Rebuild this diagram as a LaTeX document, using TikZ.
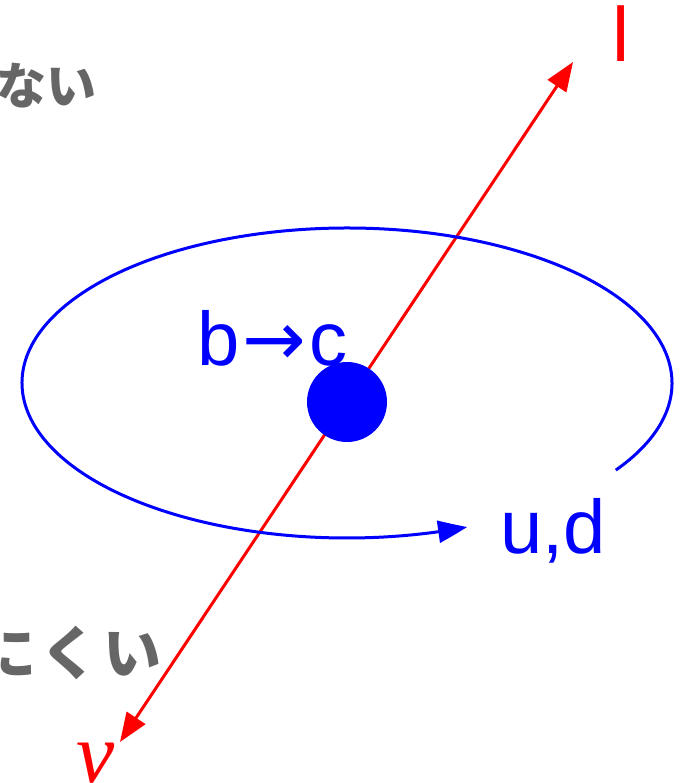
\documentclass[tikz,border=0pt]{standalone}
\usepackage{fontspec}
\setmainfont{Liberation Sans}
\newfontfamily\jpfont{Noto Sans CJK JP}
\newfontfamily\greekfont{Liberation Serif}
\newfontfamily\arrowfont{DejaVu Sans}
\usetikzlibrary{arrows.meta,bending,calc}
\definecolor{hintgray}{RGB}{102,102,102}
\tikzset{
  bigtip/.tip={Triangle[length=29pt,width=22pt,bend]},
  lepton/.style={draw=red,line width=3pt},
  quarkline/.style={draw=blue,line width=3pt},
  quarklabel/.style={text=blue,inner sep=0pt,font=\fontsize{76}{80}\selectfont},
  leptonlabel/.style={text=red,inner sep=0pt},
  hint/.style={text=hintgray,inner sep=0pt,font=\jpfont\bfseries}
}
\begin{document}
\begin{tikzpicture}[x=1pt,y=-1pt]
    \useasboundingbox (0,0) rectangle (681,783);

    % testi grigi (tagliati a sinistra)
    \node[hint,anchor=base east,font=\jpfont\bfseries\fontsize{50}{50}\selectfont] (hinttop) at (97,105) {ない};
    \node[hint,anchor=base east,font=\jpfont\bfseries\fontsize{58}{58}\selectfont\addfontfeature{LetterSpace=9}] (hintbottom) at (162,674) {にくい};

    % leptone e neutrino
    \coordinate (nutip) at (120,742);
    \coordinate (ltip) at (573,62);
    \draw[lepton,bigtip-bigtip] (nutip) -- (ltip);
    \node[leptonlabel,anchor=base west,font=\fontsize{77}{80}\selectfont] (lname) at (612,62) {l};
    \node[leptonlabel,anchor=base west,font=\greekfont\itshape\fontsize{86}{90}\selectfont] (nuname) at (76,782) {ν};

    % orbita dei quark leggeri
    \coordinate (orbitc) at (347,383);
    \draw[quarkline,-bigtip] ($(orbitc)+(34.2:325 and 155)$)
        arc[start angle=34.2, end angle=-291.7, x radius=325, y radius=155];

    % mesone pesante
    \node[circle,fill=blue,minimum size=80pt,inner sep=0pt] (meson) at (347,402) {};
    \node[quarklabel,anchor=base west] (decay) at (197,365) {b\kern3pt{\arrowfont →}\kern3pt c};
    \node[quarklabel,anchor=base west] (light) at (500,553) {u,d};
\end{tikzpicture}
\end{document}
